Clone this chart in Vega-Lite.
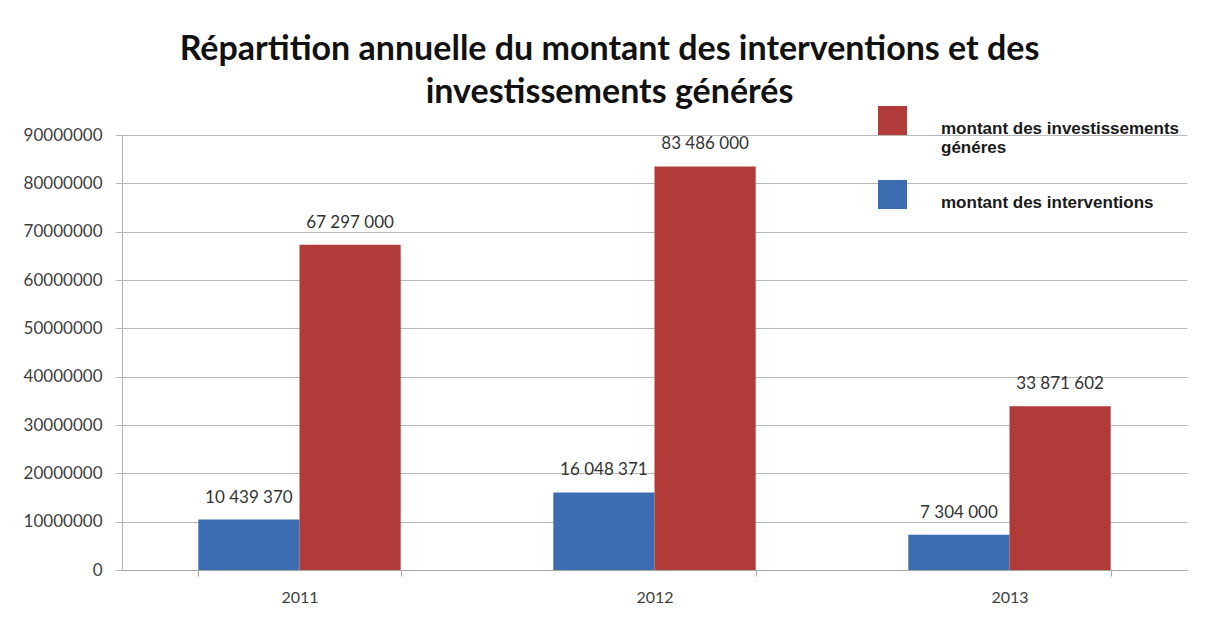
{
  "$schema": "https://vega.github.io/schema/vega-lite/v6.json",
  "width": 1065,
  "height": 435,
  "autosize": {"type": "none"},
  "padding": {"left": 122, "top": 135, "right": 19, "bottom": 47},
  "background": "white",
  "config": {
    "locale": {"number": {"decimal": ",", "thousands": " ", "grouping": [3], "currency": ["", " €"]}},
    "view": {"stroke": null},
    "font": "Lato"
  },
  "title": {
    "text": ["Répartition annuelle du montant des interventions et des", "investissements générés"],
    "font": "Lato",
    "fontSize": 34,
    "fontWeight": "bold",
    "color": "#111111",
    "lineHeight": 43,
    "anchor": "middle",
    "dx": -45,
    "offset": -4
  },
  "data": {
    "values": [
      {"annee": "2011", "serie": "montant des interventions", "montant": 10439370},
      {"annee": "2011", "serie": "montant des investissements généres", "montant": 67297000},
      {"annee": "2012", "serie": "montant des interventions", "montant": 16048371},
      {"annee": "2012", "serie": "montant des investissements généres", "montant": 83486000},
      {"annee": "2013", "serie": "montant des interventions", "montant": 7304000},
      {"annee": "2013", "serie": "montant des investissements généres", "montant": 33871602}
    ]
  },
  "encoding": {
    "x": {
      "field": "annee",
      "type": "nominal",
      "scale": {"paddingInner": 0.43, "paddingOuter": 0.215},
      "axis": {
        "title": null,
        "labelAngle": 0,
        "labelFont": "Lato",
        "labelFontSize": 16,
        "labelColor": "#404040",
        "labelPadding": 13,
        "domainColor": "#a6a6a6",
        "tickColor": "#a6a6a6",
        "tickBand": "extent",
        "tickSize": 6
      }
    },
    "xOffset": {
      "field": "serie",
      "type": "nominal",
      "scale": {"domain": ["montant des interventions", "montant des investissements généres"], "paddingInner": 0, "paddingOuter": 0}
    },
    "y": {
      "field": "montant",
      "type": "quantitative",
      "scale": {"domain": [0, 90000000], "nice": false},
      "axis": {
        "title": null,
        "format": "d",
        "values": [0, 10000000, 20000000, 30000000, 40000000, 50000000, 60000000, 70000000, 80000000, 90000000],
        "labelFont": "Lato",
        "labelFontSize": 17,
        "labelColor": "#404040",
        "labelPadding": 14,
        "tickSize": 6,
        "tickColor": "#b3b3b3",
        "domainColor": "#b3b3b3",
        "gridColor": "#b8b8b8",
        "gridWidth": 1
      }
    }
  },
  "layer": [
    {
      "mark": {"type": "bar"},
      "encoding": {
        "color": {
          "field": "serie",
          "type": "nominal",
          "scale": {
            "domain": ["montant des investissements généres", "montant des interventions"],
            "range": ["#B03B38", "#3C6DB0"]
          },
          "legend": {
            "title": null,
            "orient": "none",
            "legendX": 756,
            "legendY": -29,
            "symbolType": "square",
            "symbolSize": 841,
            "symbolStrokeWidth": 0,
            "labelFont": "Liberation Sans",
            "labelFontSize": 17,
            "labelFontWeight": "bold",
            "labelColor": "#1a1a1a",
            "labelOffset": 34,
            "labelLimit": 400,
            "labelLineHeight": 23,
            "rowPadding": 24,
            "labelBaseline": "top",
            "labelExpr": "datum.label == 'montant des investissements généres' ? ['montant des investissements', 'généres'] : datum.label"
          }
        }
      }
    },
    {
      "mark": {"type": "text", "baseline": "bottom", "dy": -13, "font": "Lato", "fontSize": 17, "color": "#333333"},
      "encoding": {
        "text": {"field": "montant", "type": "quantitative", "format": ",d"}
      }
    }
  ]
}
